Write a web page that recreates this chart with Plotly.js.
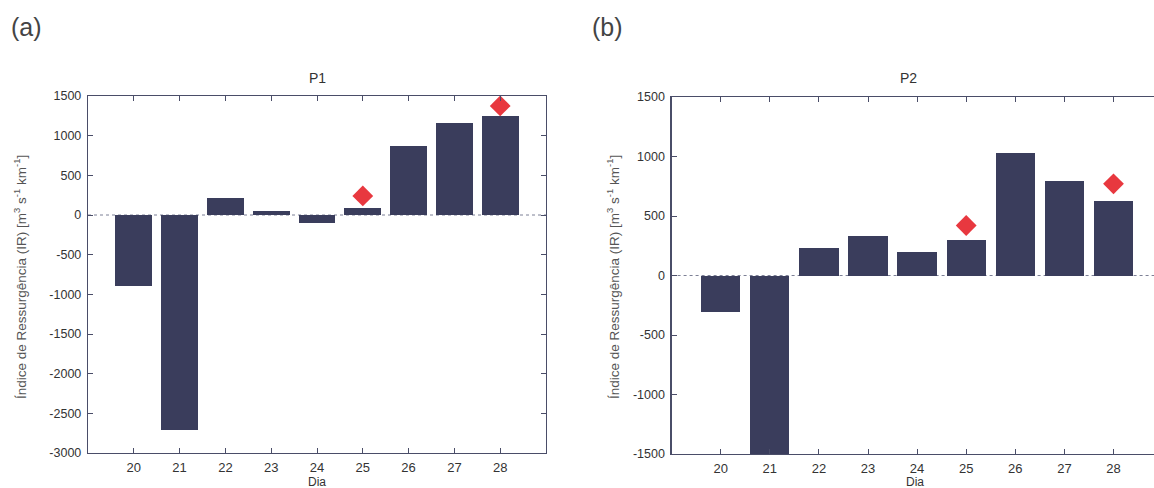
<!DOCTYPE html>
<html>
<head>
<meta charset="utf-8">
<script src="https://cdn.plot.ly/plotly-3.0.1.min.js"></script>
<style>html,body{margin:0;padding:0;background:#fff;}#chart{width:1154px;height:488px;}</style>
</head>
<body>
<div id="chart"></div>
<script>
// Data
const dias = [20, 21, 22, 23, 24, 25, 26, 27, 28];
const irP1 = [-890, -2710, 210, 45, -100, 90, 870, 1160, 1250];
const irP2 = [-305, -1500, 230, 330, 200, 300, 1030, 795, 630];
const destaqueDiasP1 = [25, 28];
const destaqueP1 = [240, 1375];
const destaqueDiasP2 = [25, 28];
const destaqueP2 = [420, 770];
const yTicksP1 = [-3000, -2500, -2000, -1500, -1000, -500, 0, 500, 1000, 1500];
const yTicksP2 = [-1500, -1000, -500, 0, 500, 1000, 1500];
const xTickLabels = ['20', '21', '22', '23', '24', '25', '26', '27', '28'];

const barColor = '#3a3d5c';
const redColor = '#e8383f';
const axisColor = '#4a4d68';
const textColor = '#333333';
const font = 'Liberation Sans, Arial, sans-serif';

const W = 1154, H = 488;
const px = v => v / W;
const py = v => 1 - v / H;

const traces = [
  {type: 'bar', x: dias, y: irP1, width: 0.8, marker: {color: barColor, line: {width: 0}}, xaxis: 'x', yaxis: 'y'},
  {type: 'scatter', mode: 'markers', x: destaqueDiasP1, y: destaqueP1, marker: {symbol: 'diamond', size: 16, color: redColor}, xaxis: 'x', yaxis: 'y'},
  {type: 'bar', x: dias, y: irP2, width: 0.8, marker: {color: barColor, line: {width: 0}}, xaxis: 'x2', yaxis: 'y2'},
  {type: 'scatter', mode: 'markers', x: destaqueDiasP2, y: destaqueP2, marker: {symbol: 'diamond', size: 16, color: redColor}, xaxis: 'x2', yaxis: 'y2'}
];

const fmt = v => String(v); // hyphen minus, like MATLAB

const commonX = {
  tickmode: 'array', tickvals: dias, ticktext: xTickLabels,
  ticks: 'inside', ticklen: 5, tickcolor: axisColor, tickwidth: 1,
  showline: true, linecolor: axisColor, linewidth: 1.2, mirror: 'ticks',
  showgrid: false, zeroline: false, ticklabelstandoff: 2,
  tickfont: {family: font, size: 13, color: textColor}
};
const commonY = {
  tickmode: 'array',
  ticks: 'inside', ticklen: 5, tickcolor: axisColor, tickwidth: 1,
  showline: true, linecolor: axisColor, linewidth: 1.2,
  showgrid: false, zeroline: false, ticklabelstandoff: 3,
  tickfont: {family: font, size: 12.5, color: textColor}
};

const x2Right = 19 + (W - 671.6) / 49.1;

const yTitle = 'Índice de Ressurgência (IR) [m<sup>3</sup> s<sup>-1</sup> km<sup>-1</sup>]';

function label(text, x, y, size, color, angle) {
  return {text: text, xref: 'paper', yref: 'paper', x: px(x), y: py(y), xanchor: 'center', yanchor: 'middle',
          textangle: angle || 0, showarrow: false, font: {family: font, size: size, color: color}};
}

const layout = {
  width: W, height: H,
  margin: {l: 0, r: 0, t: 0, b: 0},
  paper_bgcolor: '#ffffff', plot_bgcolor: '#ffffff',
  showlegend: false,
  bargap: 0,
  xaxis: Object.assign({}, commonX, {domain: [px(88), px(546)], range: [19, 29], anchor: 'y'}),
  yaxis: Object.assign({}, commonY, {domain: [py(453), py(96)], range: [-3000, 1500], tickvals: yTicksP1, ticktext: yTicksP1.map(fmt), mirror: 'ticks', anchor: 'x'}),
  xaxis2: Object.assign({}, commonX, {domain: [px(671.6), 1], range: [19, x2Right], anchor: 'y2'}),
  yaxis2: Object.assign({}, commonY, {domain: [py(454), py(97)], range: [-1500, 1500], tickvals: yTicksP2, ticktext: yTicksP2.map(fmt), mirror: false, anchor: 'x2'}),
  shapes: [
    {type: 'line', xref: 'x domain', yref: 'y', x0: 0, x1: 1, y0: 0, y1: 0, line: {color: '#7d8096', width: 1, dash: 'dot'}, layer: 'below'},
    {type: 'line', xref: 'x2 domain', yref: 'y2', x0: 0, x1: 1, y0: 0, y1: 0, line: {color: '#7d8096', width: 1, dash: 'dot'}, layer: 'below'}
  ],
  annotations: [
    label('(a)', 26, 27, 25, '#444'),
    label('(b)', 607, 27, 25, '#444'),
    label('P1', 317, 78, 14, textColor),
    label('P2', 908, 78, 14, textColor),
    label('Dia', 317, 482, 12, textColor),
    label('Dia', 915, 482, 12, textColor),
    label(yTitle, 20, 277, 13.5, '#555', -90),
    label(yTitle, 613, 277, 13.5, '#555', -90)
  ]
};

Plotly.newPlot('chart', traces, layout, {displayModeBar: false, staticPlot: true});
</script>
</body>
</html>
